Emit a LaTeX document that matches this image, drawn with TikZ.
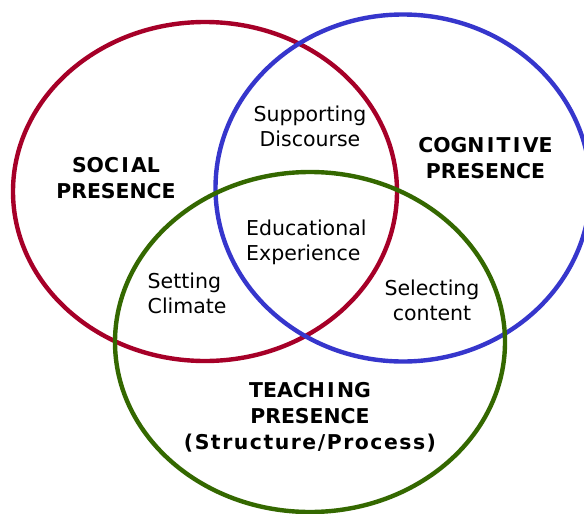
\documentclass[tikz,border=0pt]{standalone}
\usepackage{fontspec}
\setmainfont{DejaVu Sans}
\newfontfamily\labfont{DejaVu Sans Bold}
\newfontfamily\labfontwide{DejaVu Sans Bold}[LetterSpace=7.5]
\definecolor{socred}{RGB}{166,0,40}
\definecolor{cogblue}{RGB}{54,54,204}
\definecolor{teachgreen}{RGB}{52,104,0}
\newcommand\topstrutx{\rule{0pt}{16pt}}
\newcommand\boldstrutx{\rule{0pt}{17pt}}
\newcommand\Ik{\kern2.3pt I\kern2.3pt}
\begin{document}
\begin{tikzpicture}[x=1pt,y=-1pt,
  ring/.style={line width=4.4pt},
  inner/.style={inner sep=0pt,font=\fontsize{20.5}{25}\selectfont},
  label/.style={inner sep=0pt,align=center,font=\labfont\fontsize{20.4}{26}\selectfont}]
\useasboundingbox (0,0) rectangle (584,514);
\fill[white] (0,0) rectangle (584,514);
\coordinate (cs) at (205,191.5);
\coordinate (cc) at (403,188);
\coordinate (ct) at (310,342);
\draw[ring,socred] (cs) ellipse [x radius=192, y radius=169.5];
\draw[ring,cogblue] (cc) ellipse [x radius=187.5, y radius=173.5];
\draw[ring,teachgreen] (ct) ellipse [x radius=195, y radius=170];
\node[inner,align=center,anchor=north] (sd) at (310,105.7) {\topstrutx Supporting\\Discourse};
\node[inner,align=left,anchor=north west] (ee) at (246,219) {\topstrutx Educational\\Experience};
\node[inner,align=left,anchor=north west] (sc) at (147.5,272.3) {\topstrutx Setting\\Climate};
\node[inner,align=center,anchor=north] (sel) at (432,279.7) {\topstrutx Selecting\\content};
\node[label,anchor=north] (sp) at (116,155.3) {\boldstrutx SOC\Ik AL\\PRESENCE};
\node[label,anchor=north] (cp) at (485.5,135) {\boldstrutx COGN\Ik T\Ik VE\\PRESENCE};
\node[label,anchor=north] (tp) at (310,380) {\boldstrutx TEACH\Ik NG\\PRESENCE\\{\labfontwide (Structure/Process)}};
\end{tikzpicture}
\end{document}
